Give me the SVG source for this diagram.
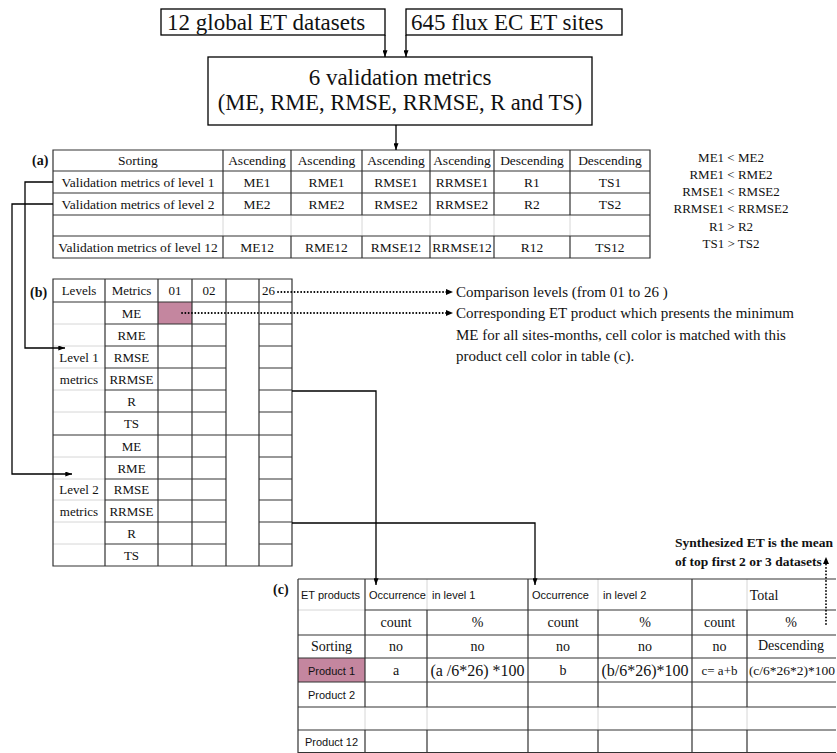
<svg xmlns="http://www.w3.org/2000/svg" width="837" height="753" viewBox="0 0 837 753">
<defs>
<marker id="ah" viewBox="0 0 8 6" refX="8" refY="3" markerWidth="7" markerHeight="5" markerUnits="userSpaceOnUse" orient="auto"><path d="M0,0 L8,3 L0,6 Z" fill="#000"/></marker>
<style>
.t{font-family:"Liberation Serif","Times New Roman",serif;fill:#111}
.s{font-family:"Liberation Sans",Arial,sans-serif;fill:#111}
.m{text-anchor:middle}
.b{font-weight:bold}
.box{fill:#fff;stroke:#000;stroke-width:1.3}
.dk{fill:none;stroke:#333;stroke-width:1.2}
.lt{fill:none;stroke:#d6d6d6;stroke-width:1}
.ln{fill:none;stroke:#000;stroke-width:1.3}
.dot{fill:none;stroke:#000;stroke-width:1.8;stroke-dasharray:0.1 3.2;stroke-linecap:round}
</style>
</defs>
<rect width="837" height="753" fill="#fff"/>

<g id="box-datasets">
<rect class="box" x="161" y="9" width="224" height="26"/>
<text class="t" x="167" y="30" font-size="23">12 global ET datasets</text>
</g>
<g id="box-sites">
<rect class="box" x="406" y="9" width="216" height="26"/>
<text class="t" x="411" y="30" font-size="23">645 flux EC ET sites</text>
</g>
<g id="box-metrics">
<rect class="box" x="208" y="57" width="384" height="68"/>
<text class="t m" x="400" y="85" font-size="23">6 validation metrics</text>
<text class="t m" x="400" y="110" font-size="22.5">(ME, RME, RMSE, RRMSE, R and TS)</text>
</g>

<g id="table-a">
<text class="t b" x="32" y="165" font-size="14">(a)</text>
<path class="lt" d="M223,215V236M291,215V236M362,215V236M430,215V236M494,215V236M570,215V236"/>
<path class="dk" d="M53,150H650V258H53Z M53,171H650M53,193H650M53,215H650M53,236H650 M223,150V215M291,150V215M362,150V215M430,150V215M494,150V215M570,150V215 M223,236V258M291,236V258M362,236V258M430,236V258M494,236V258M570,236V258"/>
<g font-size="13.5">
<text class="t m" x="138" y="165">Sorting</text>
<text class="t m" x="257" y="165">Ascending</text>
<text class="t m" x="326.5" y="165">Ascending</text>
<text class="t m" x="396" y="165">Ascending</text>
<text class="t m" x="462" y="165">Ascending</text>
<text class="t m" x="532" y="165">Descending</text>
<text class="t m" x="610" y="165">Descending</text>
<text class="t m" x="138" y="186.5">Validation metrics of  level 1</text>
<text class="t m" x="257" y="186.5">ME1</text>
<text class="t m" x="326.5" y="186.5">RME1</text>
<text class="t m" x="396" y="186.5">RMSE1</text>
<text class="t m" x="462" y="186.5">RRMSE1</text>
<text class="t m" x="532" y="186.5">R1</text>
<text class="t m" x="610" y="186.5">TS1</text>
<text class="t m" x="138" y="208.5">Validation metrics of  level 2</text>
<text class="t m" x="257" y="208.5">ME2</text>
<text class="t m" x="326.5" y="208.5">RME2</text>
<text class="t m" x="396" y="208.5">RMSE2</text>
<text class="t m" x="462" y="208.5">RRMSE2</text>
<text class="t m" x="532" y="208.5">R2</text>
<text class="t m" x="610" y="208.5">TS2</text>
<text class="t m" x="138" y="251.5">Validation metrics of  level 12</text>
<text class="t m" x="257" y="251.5">ME12</text>
<text class="t m" x="326.5" y="251.5">RME12</text>
<text class="t m" x="396" y="251.5">RMSE12</text>
<text class="t m" x="462" y="251.5">RRMSE12</text>
<text class="t m" x="532" y="251.5">R12</text>
<text class="t m" x="610" y="251.5">TS12</text>
</g>
</g>

<g id="inequalities" font-size="13">
<text class="t m" x="731" y="162">ME1 &lt; ME2</text>
<text class="t m" x="731" y="179">RME1 &lt; RME2</text>
<text class="t m" x="731" y="196">RMSE1 &lt; RMSE2</text>
<text class="t m" x="731" y="213">RRMSE1 &lt; RRMSE2</text>
<text class="t m" x="731" y="231">R1 &gt; R2</text>
<text class="t m" x="731" y="248">TS1 &gt; TS2</text>
</g>

<g id="table-b">
<text class="t b" x="30" y="297" font-size="14">(b)</text>
<rect x="158" y="302" width="34" height="22" fill="#c4869f"/>
<path class="lt" d="M53,324H105M53,346H105M53,368H105M53,390H105M53,412H105M53,457H105M53,479H105M53,500H105M53,522H105M53,544H105"/>
<path class="dk" d="M53,279H292V566H53Z M53,302H292M53,435H292 M105,279V566M158,279V566M192,279V566M226,279V566M259,279V566 M105,324H226M105,346H226M105,368H226M105,390H226M105,412H226M105,457H226M105,479H226M105,500H226M105,522H226M105,544H226 M259,324H292M259,346H292M259,368H292M259,390H292M259,412H292M259,457H292M259,479H292M259,500H292M259,522H292M259,544H292"/>
<g font-size="13">
<text class="t m" x="79" y="295">Levels</text>
<text class="t m" x="131.5" y="295">Metrics</text>
<text class="t m" x="175" y="295">01</text>
<text class="t m" x="209" y="295">02</text>
<text class="t" x="262" y="295">26</text>
<text class="t m" x="79" y="362">Level 1</text>
<text class="t m" x="79" y="384">metrics</text>
<text class="t m" x="79" y="494">Level 2</text>
<text class="t m" x="79" y="516">metrics</text>
<text class="t m" x="131.5" y="317.5">ME</text>
<text class="t m" x="131.5" y="339.5">RME</text>
<text class="t m" x="131.5" y="361.5">RMSE</text>
<text class="t m" x="131.5" y="383.5">RRMSE</text>
<text class="t m" x="131.5" y="405.5">R</text>
<text class="t m" x="131.5" y="428">TS</text>
<text class="t m" x="131.5" y="450.5">ME</text>
<text class="t m" x="131.5" y="472.5">RME</text>
<text class="t m" x="131.5" y="494">RMSE</text>
<text class="t m" x="131.5" y="515.5">RRMSE</text>
<text class="t m" x="131.5" y="537.5">R</text>
<text class="t m" x="131.5" y="559.5">TS</text>
</g>
</g>

<g id="notes" font-size="15">
<text class="t" x="456" y="297">Comparison levels (from 01 to 26 )</text>
<text class="t" x="456" y="318">Corresponding ET product which presents the minimum</text>
<text class="t" x="456" y="340">ME for all sites-months, cell color is matched with this</text>
<text class="t" x="456" y="361">product cell color in table (c).</text>
</g>

<g id="synth-note" font-size="13.5">
<text class="t b" x="675" y="547">Synthesized ET is the mean</text>
<text class="t b" x="675" y="566">of top first 2 or 3 datasets</text>
</g>

<g id="table-c">
<text class="t b" x="273" y="594" font-size="14">(c)</text>
<rect x="298" y="658" width="67" height="24" fill="#c4869f"/>
<path class="lt" d="M298,610H365 M427,579V610M598,579V610M747,579V610 M365,707V730M427,707V730M598,707V730M747,707V730"/>
<path class="dk" d="M298,579H836 M298,579V753 M365,610H836 M298,635H836M298,658H836M298,682H836M298,707H836M298,730H836M298,752.5H836 M365,579V707M365,730V753 M528,579V753M692,579V753 M427,610V707M598,610V707M747,610V707 M427,730V753M598,730V753M747,730V753"/>
<g font-size="11">
<text class="s" x="301" y="599">ET products</text>
<text class="s" x="369" y="599">Occurrence</text>
<text class="s" x="432" y="599">in level  1</text>
<text class="s" x="532" y="599">Occurrence</text>
<text class="s" x="603" y="599">in level  2</text>
<text class="s m" x="331.5" y="675">Product 1</text>
<text class="s m" x="331.5" y="699">Product 2</text>
<text class="s m" x="331.5" y="746">Product 12</text>
</g>
<g font-size="14">
<text class="t m" x="764" y="600">Total</text>
<text class="t m" x="396" y="627">count</text>
<text class="t m" x="477.5" y="627">%</text>
<text class="t m" x="563" y="627">count</text>
<text class="t m" x="645" y="627">%</text>
<text class="t m" x="719.5" y="627">count</text>
<text class="t m" x="791" y="627">%</text>
<text class="t m" x="331.5" y="651">Sorting</text>
<text class="t m" x="396" y="651">no</text>
<text class="t m" x="477.5" y="651">no</text>
<text class="t m" x="563" y="651">no</text>
<text class="t m" x="645" y="651">no</text>
<text class="t m" x="719.5" y="651">no</text>
<text class="t m" x="791" y="650">Descending</text>
<text class="t m" x="396" y="675">a</text>
<text class="t m" x="477.5" y="676" font-size="16">(a /6*26) *100</text>
<text class="t m" x="563" y="675">b</text>
<text class="t m" x="645" y="676" font-size="16">(b/6*26)*100</text>
<text class="t m" x="719.5" y="675" font-size="13">c= a+b</text>
<text class="t m" x="792" y="675" font-size="13.5">(c/6*26*2)*100</text>
</g>
</g>

<g id="connectors">
<path class="ln" d="M385,35V57" marker-end="url(#ah)"/>
<path class="ln" d="M406,35V57" marker-end="url(#ah)"/>
<path class="ln" d="M396,125V150" marker-end="url(#ah)"/>
<path class="ln" d="M53,182H25V348H65" marker-end="url(#ah)"/>
<path class="ln" d="M53,204H12V474H72" marker-end="url(#ah)"/>
<path class="ln" d="M292,391H376V585" marker-end="url(#ah)"/>
<path class="ln" d="M292,523H535V585" marker-end="url(#ah)"/>
<path class="dot" d="M278,292H447"/>
<path d="M446,289L453,292L446,295Z" fill="#000"/>
<path class="dot" d="M182,313H447"/>
<path d="M446,310L453,313L446,316Z" fill="#000"/>
<path class="dot" d="M826,624V564"/>
<path d="M823,564L826,557L829,564Z" fill="#000"/>
</g>
</svg>
